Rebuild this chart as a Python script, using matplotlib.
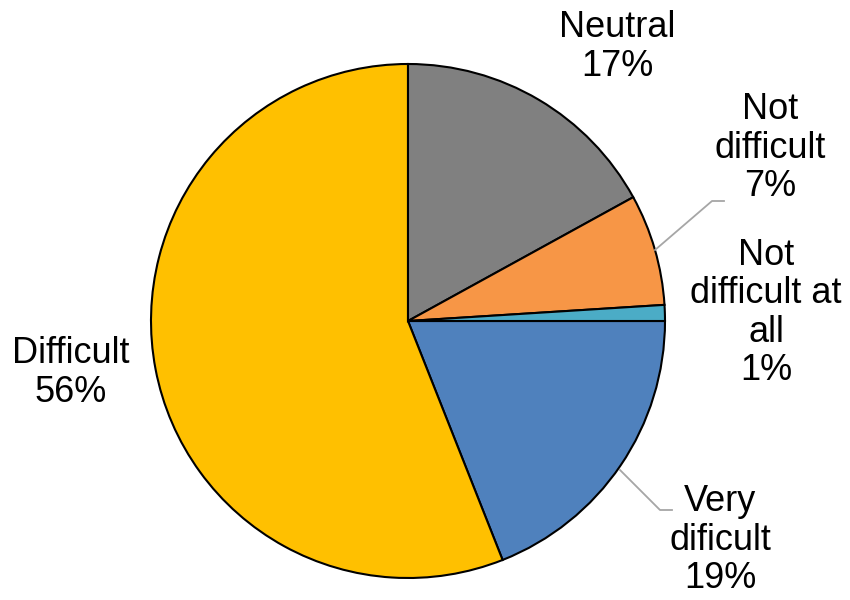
import matplotlib.pyplot as plt

plt.rcParams['font.family'] = ['Liberation Sans', 'DejaVu Sans']

# answers, clockwise from 3 o'clock
labels = ['Very\ndificult', 'Difficult', 'Neutral', 'Not\ndifficult', 'Not\ndifficult at\nall']
shares = [19, 56, 17, 7, 1]
colors = ['#4F81BD', '#FFC000', '#808080', '#F79646', '#4BACC6']

# label centres in pixel coordinates (y from top)
label_pos = [(720, 540), (71, 373), (617, 47), (770, 148), (766, 313)]

W, H = 850, 600
cx, cy, r = 408, 321, 257

fig = plt.figure(figsize=(8.5, 6), dpi=100)
ax = fig.add_axes([0, 0, 1, 1])

ax.pie(shares, colors=colors, startangle=0, counterclock=False,
       center=(cx, H - cy), radius=r, frame=True,
       wedgeprops=dict(edgecolor='black', linewidth=1.5))
ax.set_xlim(0, W)
ax.set_ylim(0, H)
ax.axis('off')

for lab, val, (x, y) in zip(labels, shares, label_pos):
    ax.text(x, H - y, f'{lab}\n{val}%', ha='center', va='center',
            fontsize=26, linespacing=1.12, color='black')

# leader lines
ax.plot([655, 712, 724], [H - 250, H - 201, H - 201], color='#A6A6A6', lw=1.3)
ax.plot([620, 660, 672], [H - 470, H - 510, H - 510], color='#A6A6A6', lw=1.3)

fig.savefig('out.png', dpi=100)
